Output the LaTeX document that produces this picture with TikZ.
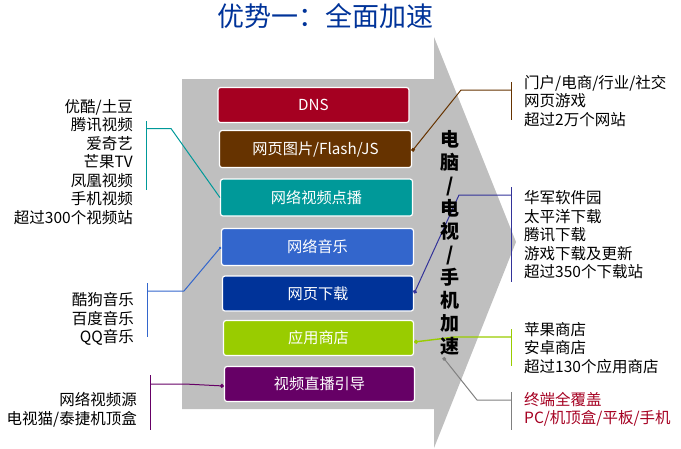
\documentclass[tikz,border=0pt]{standalone}
\usepackage{fontspec}
\setmainfont{Noto Sans CJK SC}
\usetikzlibrary{arrows.meta}
\definecolor{cgray}{HTML}{BFBFBF}
\definecolor{cred}{HTML}{A50021}
\definecolor{cbrown}{HTML}{663300}
\definecolor{cteal}{HTML}{009999}
\definecolor{cblue}{HTML}{3366CC}
\definecolor{cnavy}{HTML}{003399}
\definecolor{cgreen}{HTML}{99CC00}
\definecolor{cpurple}{HTML}{660066}
\definecolor{cindigo}{HTML}{333399}
\tikzset{
  >=latex,
  svcbox/.style={draw=white,line width=1.2pt,rounded corners=2.5pt,text=white,font=\fontsize{15.2}{15.2}\selectfont,inner sep=0pt},
  infotext/.style={font=\fontsize{15.5}{18.5}\selectfont,inner sep=0pt},
  lefttext/.style={infotext,align=right,anchor=east},
  righttext/.style={infotext,align=left,anchor=west},
  linkline/.style={line width=1pt}
}

\begin{document}
\begin{tikzpicture}[x=1pt,y=-1pt]
    \useasboundingbox (0,0) rectangle (681,448);
    \fill[cgray] (182,79) -- (434,79) -- (434,37) -- (516,242) -- (434,448) -- (434,409) -- (182,409) -- cycle;
    \node[font=\fontsize{27}{27}\selectfont,text=cnavy,inner sep=0pt] (title) at (325,16) {优势一：全面加速};
    % service boxes
    \node[svcbox,fill=cred,minimum width=191pt,minimum height=35pt] (dns) at (313.5,105) {DNS};
    \node[svcbox,fill=cbrown,minimum width=192pt,minimum height=37pt] (web) at (315.5,149) {网页图片/Flash/JS};
    \node[svcbox,fill=cteal,minimum width=192pt,minimum height=37pt] (vod) at (316.5,197.5) {网络视频点播};
    \node[svcbox,fill=cblue,minimum width=192pt,minimum height=37pt] (music) at (317.5,247) {网络音乐};
    \node[svcbox,fill=cnavy,minimum width=191pt,minimum height=35pt] (down) at (318,293.5) {网页下载};
    \node[svcbox,fill=cgreen,minimum width=190pt,minimum height=35pt] (app) at (318.5,338) {应用商店};
    \node[svcbox,fill=cpurple,minimum width=190pt,minimum height=35pt] (live) at (319.5,384) {视频直播引导};
    % text blocks
    \node[lefttext] (vodtext) at (133,162) {优酷/土豆\\腾讯视频\\爱奇艺\\芒果TV\\凤凰视频\\手机视频\\超过300个视频站};
    \node[lefttext] (musictext) at (134,319) {酷狗音乐\\百度音乐\\QQ音乐};
    \node[lefttext] (livetext) at (137,410) {网络视频源\\电视猫/泰捷机顶盒};
    \node[righttext] (webtext) at (524,101) {门户/电商/行业/社交\\网页游戏\\超过2万个网站};
    \node[righttext] (downtext) at (524,235) {华军软件园\\太平洋下载\\腾讯下载\\游戏下载及更新\\超过350个下载站};
    \node[righttext] (apptext) at (524,348) {苹果商店\\安卓商店\\超过130个应用商店};
    \node[righttext,text=cred] (termtext) at (524,409.5) {终端全覆盖\\PC/机顶盒/平板/手机};
    % brackets and links
    \coordinate (vodbar) at (146,128.5);
    \coordinate (musicbar) at (147,291);
    \coordinate (livebar) at (150,384);
    \coordinate (webbar) at (511,90);
    \coordinate (downbar) at (511,195);
    \coordinate (appbar) at (511,337);
    \coordinate (termbar) at (511,400);
    \draw[linkline,cteal] (146,121) -- (146,190);
    \draw[linkline,cteal] (vodbar) -- (171,128.5) -- (vod.west);
    \draw[linkline,cblue] (147,283) -- (147,337);
    \draw[linkline,cblue,-{Circle[length=2.5pt]}] (musicbar) -- (184,291) -- (music.west);
    \draw[linkline,cpurple] (150,375) -- (150,430);
    \draw[linkline,cpurple,-{Circle[length=4pt]}] (livebar) -- (185,384) -- ([yshift=-2pt]live.west);
    \draw[linkline,cbrown] (511,82) -- (511,120);
    \draw[linkline,cbrown,-{Square[length=3pt]}] (webbar) -- (461,90) -- ([yshift=-2pt]web.east);
    \draw[linkline,cindigo] (511,187) -- (511,282);
    \draw[linkline,cindigo,-{Circle[length=4pt]}] (downbar) -- (459,195) -- (down.east);
    \draw[linkline,cgreen] (511,329) -- (511,366);
    \draw[linkline,cgreen,line width=1.4pt,-{Circle[length=4pt]}] (appbar) -- (455,337) -- ([yshift=-4pt]app.east);
    \draw[linkline,gray] (511,392) -- (511,430);
    % label over the arrow
    \node[font=\fontsize{19}{23}\bfseries\selectfont,align=center,inner sep=0pt] (speed) at (450,243) {电\\脑\\/\\电\\视\\/\\手\\机\\加\\速};
    \draw[linkline,gray,-{Square[length=3pt]}] (termbar) -- (477,400) -- ([shift={(3,2)}]speed.south west);
\end{tikzpicture}
\end{document}
